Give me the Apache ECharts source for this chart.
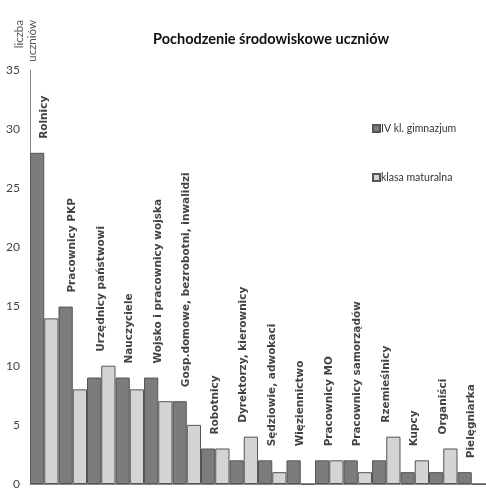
<!DOCTYPE html>
<html>
<head>
<meta charset="utf-8">
<script src="https://cdn.jsdelivr.net/npm/echarts@6/dist/echarts.min.js"></script>
<style>
	html, body { margin: 0; padding: 0; background: #fff; }
	#chart { width: 486px; height: 490px; }
</style>
</head>
<body>
<div id="chart"></div>
<script>
	// kategorie zawodów rodziców
	const categories = [
		'Rolnicy', 'Pracownicy PKP', 'Urzędnicy państwowi', 'Nauczyciele',
		'Wojsko i pracownicy wojska', 'Gosp.domowe, bezrobotni, inwalidzi',
		'Robotnicy', 'Dyrektorzy, kierownicy', 'Sędziowie, adwokaci',
		'Więziennictwo', 'Pracownicy MO', 'Pracownicy samorządów',
		'Rzemieślnicy', 'Kupcy', 'Organiści', 'Pielęgniarka'
	];
	const gimnazjum = [28, 15, 9, 9, 9, 7, 3, 2, 2, 2, 2, 2, 2, 1, 1, 1];
	const maturalna = [14, 8, 10, 8, 7, 5, 3, 4, 1, 0, 2, 1, 4, 2, 3, 0];
	const yTicks = { min: 0, max: 35, interval: 5 };

	const chart = echarts.init(document.getElementById('chart'));

	// etykiety kategorii stoją nad wyższym słupkiem
	const labelData = categories.map((name, i) => [name, Math.max(gimnazjum[i], maturalna[i])]);

	const barBorder = { borderColor: '#555', borderWidth: 1 };

	chart.setOption({
		animation: false,
		title: {
			text: 'Pochodzenie środowiskowe uczniów',
			left: 148,
			top: 27,
			textStyle: {
				fontFamily: 'Lato',
				fontWeight: 'bold',
				fontSize: 14.5,
				color: '#111'
			}
		},
		// opis osi Y, obrócony pionowo
		graphic: [
			{
				type: 'text',
				x: 26,
				y: 20,
				rotation: Math.PI / 2,
				style: {
					text: 'liczba\nuczniów',
					fontFamily: 'Lato',
					fontSize: 11.5,
					lineHeight: 13,
					fill: '#555',
					align: 'right',
					verticalAlign: 'middle'
				}
			}
		],
		legend: {
			orient: 'vertical',
			left: 367,
			top: 118,
			itemGap: 38,
			itemWidth: 7,
			itemHeight: 7,
			icon: 'rect',
			textStyle: { fontFamily: 'Lato', fontSize: 10.5, color: '#333', padding: [0, 0, 0, -4] },
			data: ['IV kl. gimnazjum', 'klasa maturalna']
		},
		grid: { left: 30, right: 0, top: 70, bottom: 1 },
		xAxis: {
			type: 'category',
			data: categories,
			axisLine: { lineStyle: { color: '#888' } },
			axisTick: { show: false },
			axisLabel: { show: false }
		},
		yAxis: {
			type: 'value',
			min: yTicks.min,
			max: yTicks.max,
			interval: yTicks.interval,
			splitLine: { show: false },
			axisLine: { show: true, lineStyle: { color: '#888' } },
			axisTick: { show: false },
			axisLabel: { fontFamily: 'Lato', fontSize: 12, color: '#444', margin: 10 }
		},
		series: [
			{
				name: 'IV kl. gimnazjum',
				type: 'bar',
				data: gimnazjum,
				barGap: '0%',
				barCategoryGap: '0%',
				itemStyle: Object.assign({ color: '#7c7c7e' }, barBorder)
			},
			{
				name: 'klasa maturalna',
				type: 'bar',
				data: maturalna,
				itemStyle: Object.assign({ color: '#d4d4d4' }, barBorder)
			},
			{
				type: 'scatter',
				data: labelData,
				symbolSize: 0,
				silent: true,
				label: {
					show: true,
					position: 'top',
					distance: 14,
					rotate: 90,
					align: 'left',
					verticalAlign: 'middle',
					formatter: p => p.data[0],
					fontFamily: 'DejaVu Sans',
					fontWeight: 'bold',
					fontSize: 10.5,
					color: '#111'
				}
			}
		]
	});
</script>
</body>
</html>
